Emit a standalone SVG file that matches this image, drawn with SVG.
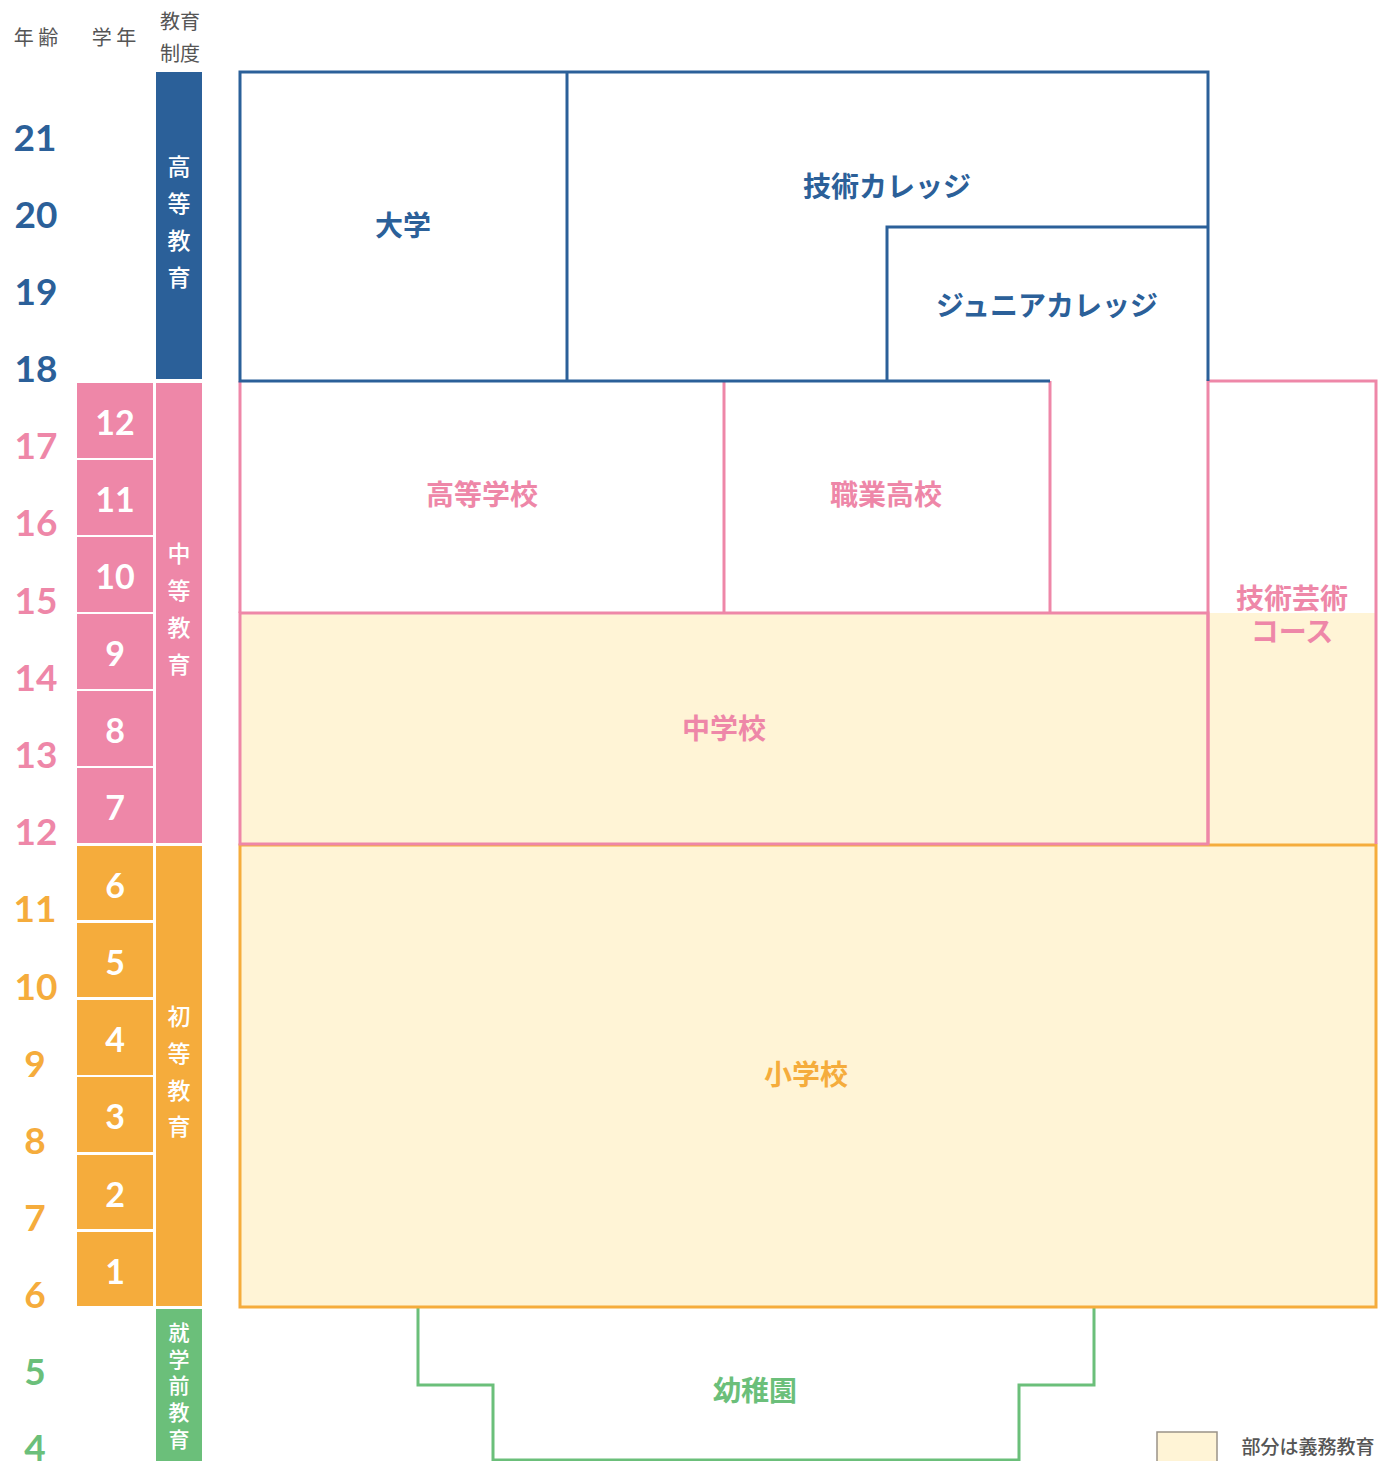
<svg xmlns="http://www.w3.org/2000/svg" width="1393" height="1461" viewBox="0 0 1393 1461">
<style>
text{font-family:"Noto Sans CJK JP","Noto Sans",sans-serif;text-anchor:middle;dominant-baseline:central}
.num{font-family:"Lato","Noto Sans",sans-serif;font-weight:700;font-size:37px}
.gr{font-family:"Lato","Noto Sans",sans-serif;font-weight:700;font-size:34px;fill:#fff}
.hd{font-size:20px;fill:#555}
.vt{font-size:23px;fill:#fff;font-weight:500}
.vs{font-size:21px;fill:#fff;font-weight:500}
.lbl{font-size:28px;font-weight:700}
.b{fill:#2b6099}.p{fill:#ee87a8}.o{fill:#f5ac3c}.g{fill:#6bbf7a}
.sb{fill:none;stroke:#2b6099;stroke-width:3}
.sp{fill:none;stroke:#ee87a8;stroke-width:3}
.so{fill:none;stroke:#f5ac3c;stroke-width:3}
.sg{fill:none;stroke:#6bbf7a;stroke-width:3}
.fill{fill:#fff4d6}
</style>
<g id="header">
<text class="hd" x="36" y="36">年 齢</text>
<text class="hd" x="114" y="36">学 年</text>
<text class="hd" x="180" y="20">教育</text>
<text class="hd" x="180" y="52">制度</text>
</g>
<g id="ages">
<text class="num b" x="35" y="136">21</text>
<text class="num b" x="36" y="213">20</text>
<text class="num b" x="36" y="290">19</text>
<text class="num b" x="36" y="367">18</text>
<text class="num p" x="36" y="444">17</text>
<text class="num p" x="36" y="521">16</text>
<text class="num p" x="36" y="599">15</text>
<text class="num p" x="36" y="676">14</text>
<text class="num p" x="36" y="753">13</text>
<text class="num p" x="36" y="830">12</text>
<text class="num o" x="35" y="907">11</text>
<text class="num o" x="36" y="985">10</text>
<text class="num o" x="35" y="1062">9</text>
<text class="num o" x="35" y="1139">8</text>
<text class="num o" x="35" y="1216">7</text>
<text class="num o" x="35" y="1293">6</text>
<text class="num g" x="35" y="1370">5</text>
<text class="num g" x="35" y="1446">4</text>
</g>
<g id="grades">
<rect class="p" x="77" y="383" width="76" height="75"/>
<rect class="p" x="77" y="460" width="76" height="75"/>
<rect class="p" x="77" y="537" width="76" height="75"/>
<rect class="p" x="77" y="614" width="76" height="75"/>
<rect class="p" x="77" y="691" width="76" height="75"/>
<rect class="p" x="77" y="768" width="76" height="75"/>
<rect class="o" x="77" y="846" width="76" height="74"/>
<rect class="o" x="77" y="923" width="76" height="74"/>
<rect class="o" x="77" y="1000" width="76" height="75"/>
<rect class="o" x="77" y="1077" width="76" height="75"/>
<rect class="o" x="77" y="1155" width="76" height="74"/>
<rect class="o" x="77" y="1232" width="76" height="74"/>
<text class="gr" x="115" y="421">12</text>
<text class="gr" x="115" y="498">11</text>
<text class="gr" x="115" y="575">10</text>
<text class="gr" x="115" y="652">9</text>
<text class="gr" x="115" y="729">8</text>
<text class="gr" x="115" y="806">7</text>
<text class="gr" x="115" y="884">6</text>
<text class="gr" x="115" y="961">5</text>
<text class="gr" x="115" y="1038">4</text>
<text class="gr" x="115" y="1115">3</text>
<text class="gr" x="115" y="1193">2</text>
<text class="gr" x="115" y="1270">1</text>
</g>
<g id="stages">
<rect class="b" x="156" y="72" width="46" height="307"/>
<rect class="p" x="156" y="383" width="46" height="460"/>
<rect class="o" x="156" y="846" width="46" height="460"/>
<rect class="g" x="156" y="1309" width="46" height="152"/>
<text class="vt" x="179" y="165">高</text>
<text class="vt" x="179" y="202">等</text>
<text class="vt" x="179" y="239">教</text>
<text class="vt" x="179" y="276">育</text>
<text class="vt" x="179" y="552">中</text>
<text class="vt" x="179" y="589">等</text>
<text class="vt" x="179" y="626">教</text>
<text class="vt" x="179" y="663">育</text>
<text class="vt" x="179" y="1015">初</text>
<text class="vt" x="179" y="1052">等</text>
<text class="vt" x="179" y="1089">教</text>
<text class="vt" x="179" y="1125">育</text>
<text class="vs" x="179" y="1331">就</text>
<text class="vs" x="179" y="1358">学</text>
<text class="vs" x="179" y="1384">前</text>
<text class="vs" x="179" y="1411">教</text>
<text class="vs" x="179" y="1438">育</text>
</g>
<g id="connectors">
<rect class="fill" x="240" y="613" width="1136" height="694"/>
<polyline class="sg" points="418,1307 418,1385 493,1385 493,1460 1019,1460 1019,1385 1094,1385 1094,1307"/>
<rect class="so" x="240" y="845" width="1136" height="462"/>
<rect class="sp" x="240" y="613" width="968" height="231"/>
<polyline class="sp" points="1208,844 1208,381 1376,381 1376,844"/>
<line class="sp" x1="240" y1="381" x2="240" y2="613"/>
<line class="sp" x1="724" y1="381" x2="724" y2="613"/>
<line class="sp" x1="1050" y1="381" x2="1050" y2="613"/>
<polyline class="sb" points="1050,381 240,381 240,72 1208,72 1208,381"/>
<line class="sb" x1="567" y1="72" x2="567" y2="381"/>
<polyline class="sb" points="887,381 887,227 1208,227"/>
</g>
<g id="labels">
<text class="lbl b" x="403" y="224">大学</text>
<text class="lbl b" x="887" y="185">技術カレッジ</text>
<text class="lbl b" x="1047" y="304">ジュニアカレッジ</text>
<text class="lbl p" x="482" y="493">高等学校</text>
<text class="lbl p" x="886" y="493">職業高校</text>
<text class="lbl p" x="1292" y="597">技術芸術</text>
<text class="lbl p" x="1292" y="630">コース</text>
<text class="lbl p" x="724" y="727">中学校</text>
<text class="lbl o" x="806" y="1073">小学校</text>
<text class="lbl g" x="755" y="1389">幼稚園</text>
</g>
<g id="legend">
<rect x="1157" y="1432" width="60" height="30" fill="#fff4d6" stroke="#9a9388" stroke-width="1.5"/>
<text x="1308" y="1445" style="font-size:19px;fill:#555;font-weight:500">部分は義務教育</text>
</g>
</svg>
